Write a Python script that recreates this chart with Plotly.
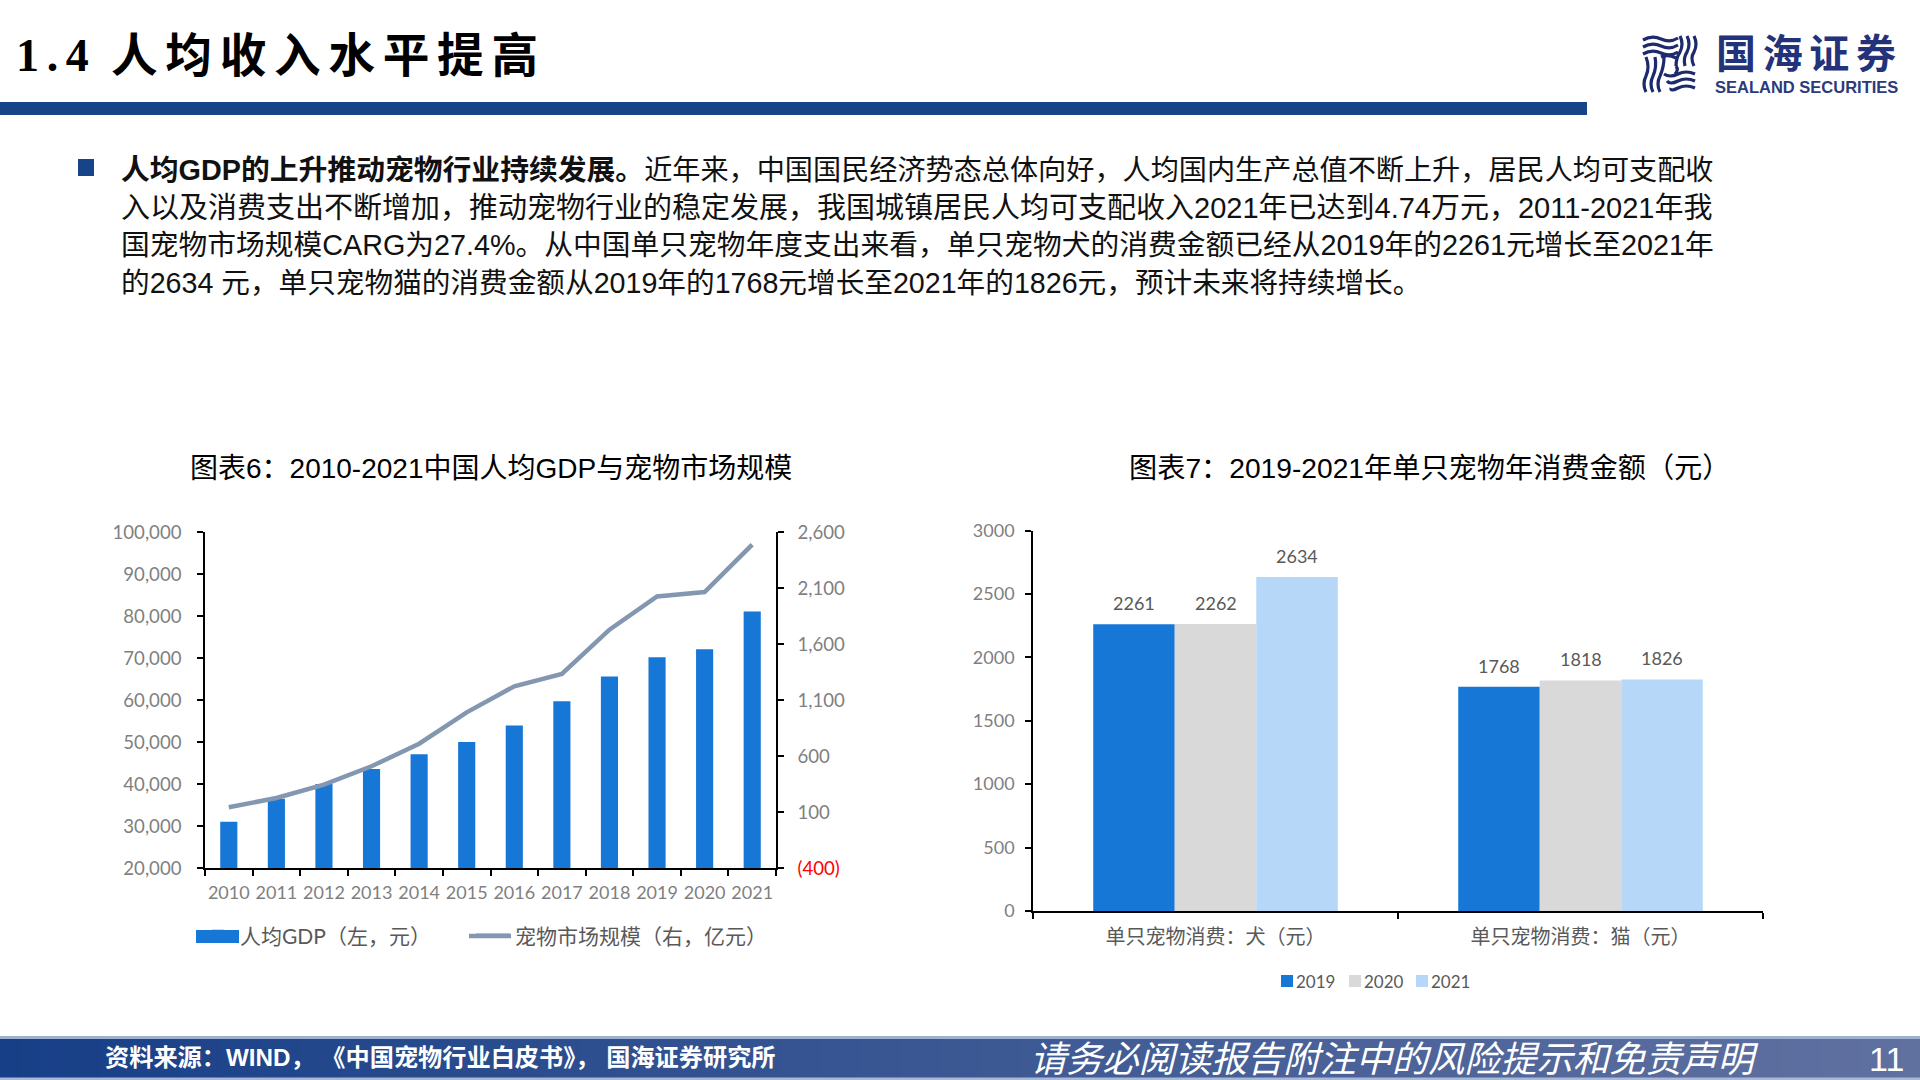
import plotly.graph_objects as go

W, H = 1920, 1080
SANS = "Liberation Sans, Noto Sans CJK SC"
SERIF = "Liberation Serif, Noto Sans CJK SC"
THIN = "Lato, Noto Sans CJK SC"
NAVY = "#174389"
GRAY = "#7f7f7f"
DARK = "#595959"
BLUE = "#1777D6"
LIGHT_GRAY = "#D9D9D9"
LIGHT_BLUE = "#B7D7F8"

# Chart 6 data
years = ["2010", "2011", "2012", "2013", "2014", "2015", "2016", "2017", "2018", "2019", "2020", "2021"]
gdp_per_capita = [31000, 36500, 40000, 43600, 47100, 50000, 53900, 59700, 65600, 70200, 72100, 81100]
pet_market = [142, 225, 344, 508, 710, 990, 1222, 1332, 1728, 2025, 2064, 2487]
left_ticks = [20000, 30000, 40000, 50000, 60000, 70000, 80000, 90000, 100000]
left_labels = ["20,000", "30,000", "40,000", "50,000", "60,000", "70,000", "80,000", "90,000", "100,000"]
right_ticks = [-400, 100, 600, 1100, 1600, 2100, 2600]
right_labels = ['<span style="color:#ff0000">(400)</span>', "100", "600", "1,100", "1,600", "2,100", "2,600"]

# Chart 7 data
pet_kinds = ["单只宠物消费：犬（元）", "单只宠物消费：猫（元）"]
spend_2019 = [2261, 1768]
spend_2020 = [2262, 1818]
spend_2021 = [2634, 1826]
series_names = ["2019", "2020", "2021"]
series_colors = [BLUE, LIGHT_GRAY, LIGHT_BLUE]

body_lines = [
    '<b><span style="font-size:28.8px">人均GDP的上升推动宠物行业持续发展。</span></b>近年来，中国国民经济势态总体向好，人均国内生产总值不断上升，居民人均可支配收',
    "入以及消费支出不断增加，推动宠物行业的稳定发展，我国城镇居民人均可支配收入2021年已达到4.74万元，2011-2021年我",
    "国宠物市场规模CARG为27.4%。从中国单只宠物年度支出来看，单只宠物犬的消费金额已经从2019年的2261元增长至2021年",
    "的2634 元，单只宠物猫的消费金额从2019年的1768元增长至2021年的1826元，预计未来将持续增长。",
]
body_sizes = [28.15, 29.0, 28.75, 28.65]
body_rows = [170, 208, 245, 283]


def px(x):
    return x / W


def py(y):
    return 1 - y / H


def rect(x0, y0, x1, y1, color, layer="below"):
    return dict(type="rect", xref="paper", yref="paper", x0=px(x0), x1=px(x1), y0=py(y0), y1=py(y1),
                fillcolor=color, line_width=0, layer=layer)


def note(x, y, text, size, color="#000000", family=SANS, xanchor="left", **kw):
    return dict(xref="paper", yref="paper", x=px(x), y=py(y), text=text, showarrow=False, xanchor=xanchor,
                yanchor="middle", font=dict(size=size, color=color, family=family, **kw), align="left")


def wave(points):
    x0, y0 = points[0]
    d = f"M {px(x0)} {py(y0)}"
    for cx, cy, x, y in points[1:]:
        d += f" Q {px(cx)} {py(cy)} {px(x)} {py(y)}"
    return dict(type="path", xref="paper", yref="paper", path=d, line=dict(color="#1d2a6d", width=3.2), layer="above")


fig = go.Figure()

fig.add_trace(go.Bar(x=years, y=gdp_per_capita, name="人均GDP（左，元）\u2003\u2003\u2006", marker=dict(color=BLUE, line_width=0),
                     width=0.36, xaxis="x", yaxis="y", legend="legend"))
fig.add_trace(go.Scatter(x=years, y=pet_market, name="宠物市场规模（右，亿元）", mode="lines",
                         line=dict(color="#8497B0", width=4.5), xaxis="x", yaxis="y2", legend="legend"))
for name, vals, col in zip(series_names, (spend_2019, spend_2020, spend_2021), series_colors):
    fig.add_trace(go.Bar(x=pet_kinds, y=vals, name=name, marker=dict(color=col, line_width=0),
                         xaxis="x3", yaxis="y3", showlegend=False, offsetgroup=name))

# Page furniture
shapes = [rect(0, 102, 1587, 115, NAVY), rect(78, 159, 94, 176, NAVY)]
left_rgb, right_rgb = (23, 63, 135), (96, 113, 160)
steps = 96
for i in range(steps):
    t = i / (steps - 1)
    c = tuple(round(a + (b - a) * t) for a, b in zip(left_rgb, right_rgb))
    shapes.append(rect(W * i / steps, 1037, W * (i + 1) / steps + 1, 1079, f"rgb{c}"))
shapes.append(rect(0, 1036, W, 1039, "#9fb0cf"))
shapes.append(rect(0, 1077.5, W, 1080, "#a9b8d4"))

# Logo mark: four quadrants of waves around a white centre
for y in (38, 45, 52):
    shapes.append(wave([(1643, y + 2), (1652, y - 3, 1661, y + 1), (1670, y + 5, 1678, y)]))
for x in (1680, 1687, 1694):
    shapes.append(wave([(x, 36), (x + 4, 44, x, 52), (x - 4, 58, x - (1694 - x) // 3, 66)]))
for y in (74, 81, 88):
    shapes.append(wave([(1695, y), (1686, y - 4, 1678, y), (1670, y + 4, 1664 + (y - 74) // 2, y)]))
for x in (1646, 1653, 1660):
    shapes.append(wave([(x, 92), (x - 4, 84, x, 76), (x + 4, 67, x + (x - 1646) // 3, 57)]))
shapes.append(wave([(1661, 57), (1668, 54, 1676, 58)]))
shapes.append(wave([(1676, 66), (1679, 70, 1675, 74)]))
# Wider legend keys for chart 6
shapes.append(rect(196, 930, 239, 943, BLUE, layer="above"))
shapes.append(rect(469, 933.8, 511, 938.2, "#8497B0", layer="above"))

annotations = [
    note(14, 56, "<b>1\u2006.\u20064</b>", 46, family=SERIF),
    note(109, 56, "<b>人\u2006均\u2006收\u2006入\u2006水\u2006平\u2006提\u2006高</b>", 46.6),
    note(1714, 54, "<b>国\u2006海\u2006证\u2006券</b>", 40, color="#24327a"),
    note(1713, 87, "<b>SEALAND SECURITIES</b>", 16.5, color="#2c3a7c"),
    note(491, 468.5, "图表6：2010-2021中国人均GDP与宠物市场规模", 28, xanchor="center"),
    note(1429, 468.5, "图表7：2019-2021年单只宠物年消费金额（元）", 28.2, xanchor="center"),
    note(103, 1057, "<b>资料来源：WIND，\u00a0《中国宠物行业白皮书》，\u00a0国海证券研究所</b>", 24.2, color="#ffffff"),
    note(1028, 1059, "请务必阅读报告附注中的风险提示和免责声明", 36.2, color="#ffffff", style="italic"),
    note(1867, 1059, "11", 34, color="#ffffff"),
]
for line, y, size in zip(body_lines, body_rows, body_sizes):
    annotations.append(note(119, y, line, size, color="#111111"))

# Chart 7 value labels sit over their own bars
bar_step = 81.5
for vals, shift in ((spend_2019, -bar_step), (spend_2020, 0), (spend_2021, bar_step)):
    for cat, v in zip(pet_kinds, vals):
        annotations.append(dict(xref="x3", yref="y3", x=cat, y=v, text=str(v), showarrow=False, xshift=shift,
                                yshift=8, yanchor="bottom", font=dict(size=18, color=DARK, family=THIN)))

# Chart 7 key
key_x = [1281, 1349, 1416]
for name, col, x in zip(series_names, series_colors, key_x):
    shapes.append(rect(x, 975, x + 12, 987, col))
    annotations.append(note(x + 13, 981, name, 17, color=DARK, family=THIN))

axis_common = dict(showgrid=False, zeroline=False, showline=True, linecolor="#000000", linewidth=1.6,
                   ticks="outside", tickcolor="#000000", tickwidth=1.6, ticklen=6, automargin=False,
                   tickfont=dict(size=18, color=GRAY, family=THIN))
value_font = dict(size=18.6, color=GRAY, family=THIN)

fig.update_layout(
    width=W, height=H, autosize=False,
    margin=dict(l=0, r=0, t=0, b=0, autoexpand=False),
    paper_bgcolor="#ffffff", plot_bgcolor="#ffffff",
    font=dict(family=THIN),
    bargap=0.33, bargroupgap=0, barmode="group",
    shapes=shapes, annotations=annotations,
    xaxis=dict(domain=[px(205), px(776)], anchor="y", tickson="boundaries", ticklabelstandoff=8, type="category",
               tickangle=0, **axis_common),
    yaxis=dict(domain=[py(868), py(532)], anchor="x", range=[20000, 100000], tickvals=left_ticks,
               ticktext=left_labels, ticklabelstandoff=12, **{**axis_common, "tickfont": value_font}),
    yaxis2=dict(overlaying="y", side="right", anchor="x", range=[-400, 2600], tickvals=right_ticks,
                ticktext=right_labels, ticklabelstandoff=10, **{**axis_common, "tickfont": value_font}),
    xaxis3=dict(domain=[px(1033), px(1763)], anchor="y3", tickson="boundaries", ticklabelstandoff=7, type="category",
                tickangle=0, **{**axis_common, "tickfont": dict(size=20, color=DARK, family=THIN)}),
    yaxis3=dict(domain=[py(911), py(530.5)], anchor="x3", range=[0, 3000], dtick=500, ticklabelstandoff=7,
                **axis_common),
    legend=dict(x=px(196), y=py(936), xanchor="left", yanchor="middle", orientation="h", itemwidth=34,
                font=dict(size=21, color=DARK, family=THIN), bgcolor="rgba(0,0,0,0)"),
)

fig.write_html("out.html", config={"displayModeBar": False},
               post_script="document.body.style.margin='0';document.body.style.overflow='hidden';")
